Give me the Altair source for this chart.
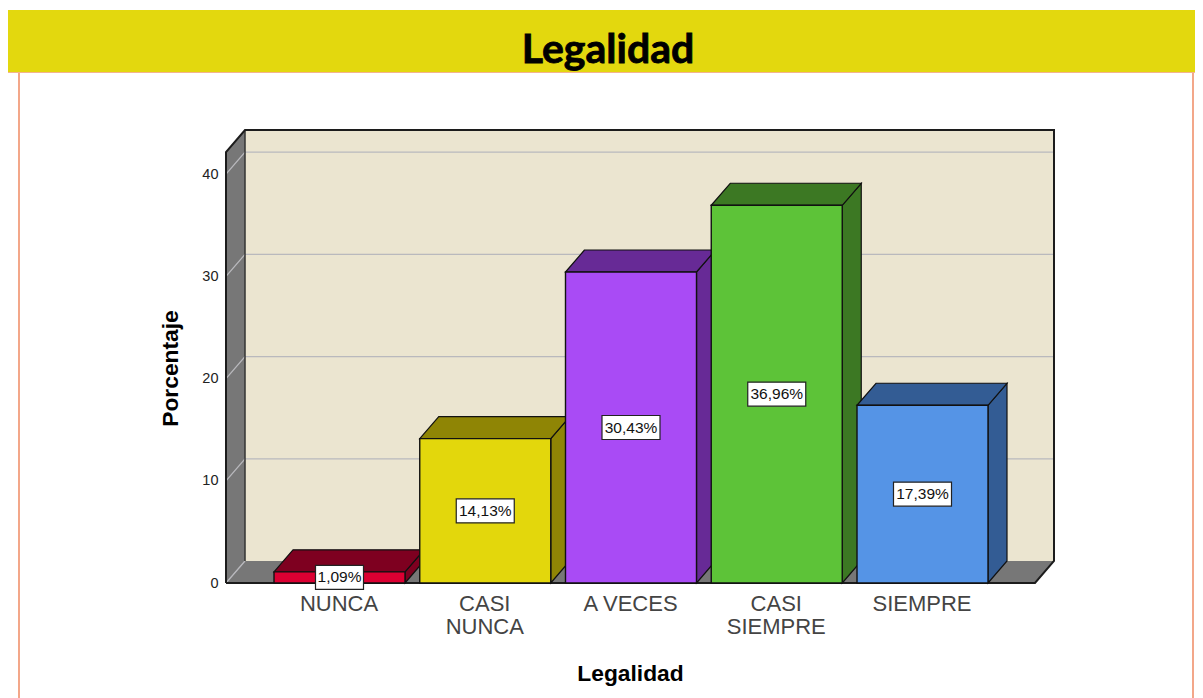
import altair as alt
import pandas as pd

categories = ["NUNCA", "CASI NUNCA", "A VECES", "CASI SIEMPRE", "SIEMPRE"]
values = [1.09, 14.13, 30.43, 36.96, 17.39]
value_labels = ["1,09%", "14,13%", "30,43%", "36,96%", "17,39%"]
front_colors = ["#dc0032", "#e3d70c", "#a94bf5", "#5dc338", "#5594e6"]
dark_colors = ["#7e0020", "#8f8505", "#672a96", "#3c7823", "#335c94"]
y_ticks = [0, 10, 20, 30, 40]

# plot geometry expressed in scale units
PX_X = 145.75
PX_Y = 10.22
W, H = 828, 453
ZERO_X = 339.5 - 226
xl = -ZERO_X / PX_X
xr = (W - ZERO_X) / PX_X
ytop = H / PX_Y
dx = 19 / PX_X
dy = 22 / PX_Y
hw = 65.5 / PX_X

xs = alt.Scale(domain=[xl, xr], nice=False, zero=False)
ys = alt.Scale(domain=[0, ytop], nice=False, zero=False)

label_expr = "[['NUNCA'],['CASI','NUNCA'],['A VECES'],['CASI','SIEMPRE'],['SIEMPRE']][datum.value]"
x_axis = alt.Axis(
    values=[0, 1, 2, 3, 4], labelExpr=label_expr, tickSize=0, domain=False, grid=False,
    labelFont="Liberation Sans", labelFontSize=22, labelColor="#444444", labelPadding=10,
    labelLineHeight=23, labelOverlap=False, labelBound=False, labelFlush=False, labelOffset=-1,
    title="Legalidad", titleFont="Liberation Sans", titleFontSize=22.8, titleFontWeight="bold",
    titleColor="#000000", titleX=404, titleY=90, titleAlign="center", titleBaseline="middle")
y_axis = alt.Axis(
    values=y_ticks, tickSize=0, domain=False, grid=False, labelPadding=8,
    labelFont="Liberation Sans", labelFontSize=14.5, labelColor="#222222",
    title="Porcentaje", titleFont="Liberation Sans", titleFontSize=22.8, titleFontWeight="bold",
    titleColor="#000000", titleX=-56, titleY=238, titleAlign="center", titleBaseline="middle")


def X(f="x"):
    return alt.X(f, type="quantitative", scale=xs, axis=x_axis)


def Y(f="y"):
    return alt.Y(f, type="quantitative", scale=ys, axis=y_axis)


sides, tops, fronts, boxes = [], [], [], []
for i, (c, v, lab, fc, dc) in enumerate(zip(categories, values, value_labels, front_colors, dark_colors)):
    a, b = i - hw, i + hw
    sides += [
        dict(id=i, x=b, y=0, y2=v, fill=dc),
        dict(id=i, x=b + dx, y=dy, y2=v + dy, fill=dc),
    ]
    tops += [
        dict(id=i, y=v, x=a, x2=b, fill=dc),
        dict(id=i, y=v + dy, x=a + dx, x2=b + dx, fill=dc),
    ]
    fronts.append(dict(x=a, x2=b, y=0, y2=v, fill=fc))
    w = (29 if len(lab) == 6 else 24) / PX_X
    boxes.append(dict(x=i - w, x2=i + w, y=v / 2 - 12 / PX_Y, y2=v / 2 + 12 / PX_Y, ym=v / 2, xm=i, label=lab))

# background
one = pd.DataFrame({"k": [0]})
banner = alt.Chart(one).mark_rect(color="#e3d80e", clip=False).encode(
    x=alt.value(-218), x2=alt.value(969), y=alt.value(-120), y2=alt.value(-58))
banner_edge = alt.Chart(one).mark_rule(color="#f3b48e", strokeWidth=1).encode(
    x=alt.value(-218), x2=alt.value(969), y=alt.value(-57.5))
orange_l = alt.Chart(one).mark_rule(color="#f0916c", strokeWidth=1.6).encode(
    x=alt.value(-207), y=alt.value(-57), y2=alt.value(568))
orange_r = alt.Chart(one).mark_rule(color="#f0916c", strokeWidth=1.6).encode(
    x=alt.value(967), y=alt.value(-57), y2=alt.value(568))
title = alt.Chart(one).mark_text(
    text="Legalidad", font="Lato", fontSize=41, fontWeight="bold", color="#000000",
    stroke="#000000", strokeWidth=0.8).encode(x=alt.value(382), y=alt.value(-79))

wall_back = alt.Chart(pd.DataFrame([dict(x=xl + dx, x2=xr, y=dy, y2=ytop)])).mark_rect(color="#ebe5d0").encode(
    x=X(), x2="x2:Q", y=Y(), y2="y2:Q")
wall_left = alt.Chart(pd.DataFrame([
    dict(x=xl, y=0, y2=ytop - dy), dict(x=xl + dx, y=dy, y2=ytop)])).mark_area(
    color="#777777", interpolate="linear").encode(x=X(), y=Y(), y2="y2:Q")
floor = alt.Chart(pd.DataFrame([
    dict(y=0, x=xl, x2=xr - dx), dict(y=dy, x=xl + dx, x2=xr)])).mark_area(
    color="#777777", orient="horizontal", interpolate="linear").encode(y=Y(), x=X(), x2="x2:Q")

grid_rows = []
for t in y_ticks:
    if t == 0:
        grid_rows += [dict(id=t, o=0, x=xl, y=0), dict(id=t, o=1, x=xl + dx, y=dy)]
    else:
        grid_rows += [
            dict(id=t, o=0, x=xl, y=t),
            dict(id=t, o=1, x=xl + dx, y=t + dy),
            dict(id=t, o=2, x=xr, y=t + dy),
        ]
grid = alt.Chart(pd.DataFrame(grid_rows)).mark_line(color="#b9b9bd", strokeWidth=1.3, interpolate="linear").encode(
    x=X(), y=Y(), detail="id:N", order="o:Q")

outline_pts = [(xl, 0), (xl, ytop - dy), (xl + dx, ytop), (xr, ytop), (xr, dy), (xr - dx, 0), (xl, 0)]
outline = alt.Chart(pd.DataFrame([dict(o=i, x=p[0], y=p[1]) for i, p in enumerate(outline_pts)])).mark_line(
    color="#1c1c1c", strokeWidth=2, interpolate="linear").encode(x=X(), y=Y(), order="o:Q")
inner = alt.Chart(pd.DataFrame([dict(o=0, x=xl + dx, y=dy), dict(o=1, x=xl + dx, y=ytop)])).mark_line(
    color="#333333", strokeWidth=1.5).encode(x=X(), y=Y(), order="o:Q")

side_l = alt.Chart(pd.DataFrame(sides)).mark_area(stroke="#111111", strokeWidth=1.2, interpolate="linear").encode(
    x=X(), y=Y(), y2="y2:Q", detail="id:N", fill=alt.Fill("fill:N", scale=None, legend=None))
top_l = alt.Chart(pd.DataFrame(tops)).mark_area(
    stroke="#111111", strokeWidth=1.2, orient="horizontal", interpolate="linear").encode(
    y=Y(), x=X(), x2="x2:Q", detail="id:N", fill=alt.Fill("fill:N", scale=None, legend=None))
front_l = alt.Chart(pd.DataFrame(fronts)).mark_rect(stroke="#111111", strokeWidth=1.4).encode(
    x=X(), x2="x2:Q", y=Y(), y2="y2:Q", fill=alt.Fill("fill:N", scale=None, legend=None))
box_l = alt.Chart(pd.DataFrame(boxes)).mark_rect(fill="#ffffff", stroke="#222222", strokeWidth=1.2).encode(
    x=X(), x2="x2:Q", y=Y(), y2="y2:Q")
text_l = alt.Chart(pd.DataFrame(boxes)).mark_text(
    font="Liberation Sans", fontSize=15.5, color="#111111").encode(
    x=X("xm"), y=Y("ym"), text="label:N")

chart = alt.layer(
    banner, banner_edge, orange_l, orange_r, title,
    wall_back, wall_left, floor, grid, inner, outline,
    side_l, top_l, front_l, box_l, text_l,
).properties(
    width=W, height=H,
    autosize=alt.AutoSizeParams(type="none"),
    padding={"left": 218, "top": 122, "right": 141, "bottom": 115},
).configure_view(stroke=None)

chart.save("out.html", embed_options={"renderer": "svg", "actions": False})
